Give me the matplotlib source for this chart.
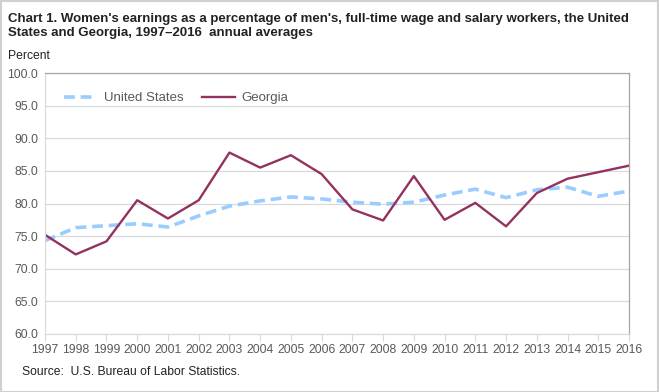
import matplotlib.pyplot as plt
from matplotlib.patches import Rectangle

plt.rcParams['font.family'] = ['Liberation Sans', 'DejaVu Sans']

# data
anos = list(range(1997, 2017))
estados_unidos = [74.3, 76.3, 76.6, 76.9, 76.4, 78.1, 79.6, 80.4, 81.0, 80.7,
                  80.2, 79.9, 80.2, 81.3, 82.2, 80.9, 82.1, 82.5, 81.1, 81.9]
georgia = [75.2, 72.2, 74.2, 80.5, 77.7, 80.5, 87.8, 85.5, 87.4, 84.5,
           79.1, 77.4, 84.2, 77.5, 80.1, 76.5, 81.6, 83.8, 84.8, 85.8]
y_ticks = [60, 65, 70, 75, 80, 85, 90, 95, 100]

cor_texto = '#595959'
cor_grade = '#d9d9d9'

fig = plt.figure(figsize=(6.59, 3.92), dpi=100)
fig.patch.set_facecolor('white')
ax = fig.add_axes([45 / 659, 1 - 334 / 392, 584 / 659, 261 / 392])

ax.plot(anos, estados_unidos, color='#99ccff', linewidth=2.6, linestyle=(0, (3, 1.6)),
        label='United States')
ax.plot(anos, georgia, color='#93325f', linewidth=1.7, label='Georgia')

ax.set_xlim(1997, 2016)
ax.set_ylim(60, 100)
ax.set_yticks(y_ticks)
ax.set_yticklabels([f'{v:.1f}' for v in y_ticks])
ax.set_xticks(anos)
ax.set_xticklabels([str(a) for a in anos])
ax.tick_params(axis='y', length=0, pad=5, labelsize=8.7, colors=cor_texto)
ax.tick_params(axis='x', length=5, width=0.8, color=cor_grade, pad=2,
               labelsize=8.7, labelcolor=cor_texto)

ax.grid(True, axis='y', color=cor_grade, linewidth=0.9)
ax.set_axisbelow(True)
for lado in ['top', 'right']:
    ax.spines[lado].set_color('#a6a6a6')
    ax.spines[lado].set_linewidth(0.9)
ax.spines['left'].set_color(cor_grade)
ax.spines['bottom'].set_color(cor_grade)

leg = ax.legend(loc='upper left', bbox_to_anchor=(0.013, 0.972), ncol=2, frameon=False,
                fontsize=9.5, handlelength=2.5, columnspacing=1.4, handletextpad=0.5)
for t in leg.get_texts():
    t.set_color(cor_texto)

fig.text(8 / 659, 1 - 13 / 392,
         "Chart 1. Women's earnings as a percentage of men's, full-time wage and salary workers, the United\n"
         "States and Georgia, 1997\u20132016  annual averages",
         fontsize=9.5, fontweight='bold', color='#222222', va='top', ha='left',
         linespacing=1.25)
fig.text(8 / 659, 1 - 56 / 392, 'Percent', fontsize=8.7, color='#222222', va='center')
fig.text(22 / 659, 1 - 372 / 392, 'Source:  U.S. Bureau of Labor Statistics.',
         fontsize=8.7, color='#222222', va='center')

fig.patches.append(Rectangle((0.5 / 659, 0.5 / 392), 1 - 1.5 / 659, 1 - 1.5 / 392,
                             transform=fig.transFigure, fill=False,
                             edgecolor='#d0d0d0', linewidth=1.5))

fig.savefig('out.png', dpi=100, facecolor='white')
